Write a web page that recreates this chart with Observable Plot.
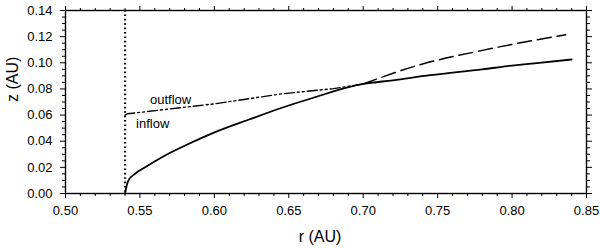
<!DOCTYPE html>
<html>
<head>
<meta charset="utf-8">
<script src="https://cdn.jsdelivr.net/npm/d3@7"></script>
<script src="https://cdn.jsdelivr.net/npm/@observablehq/plot@0.6"></script>
<style>
  html, body { margin: 0; padding: 0; background: #fff; }
  #chart { width: 600px; height: 249px; }
</style>
</head>
<body>
<div id="chart"></div>
<script>
// Solid curve (inflow surface, then continuing)
const solidR = [0.540, 0.5405, 0.5422, 0.5467, 0.5535, 0.5669, 0.5804, 0.6005, 0.6229, 0.6454, 0.6678, 0.6902, 0.700, 0.720, 0.745, 0.780, 0.800, 0.815, 0.840];
const solidZ = [0.000, 0.0030, 0.0099, 0.0151, 0.0201, 0.0291, 0.0367, 0.0469, 0.0564, 0.0656, 0.0737, 0.0813, 0.0838, 0.0866, 0.0905, 0.0950, 0.0978, 0.0996, 0.1025];
// Dash-dot-dot curve (outflow)
const outR = [0.540, 0.5415, 0.545, 0.600, 0.645, 0.680, 0.700];
const outZ = [0.0600, 0.0610, 0.0614, 0.0686, 0.0762, 0.0802, 0.0838];
// Dashed curve
const dashR = [0.700, 0.735, 0.780, 0.836];
const dashZ = [0.0838, 0.0975, 0.1095, 0.1214];
// Vertical dotted boundary
const boundaryR = [0.540];
// Annotations
const labelText = ["outflow", "inflow"];
const labelR = [0.5568, 0.5474];
const labelZ = [0.0719, 0.0536];
// Ticks
const xMajor = [0.50, 0.55, 0.60, 0.65, 0.70, 0.75, 0.80, 0.85];
const xMinor = [0.51, 0.52, 0.53, 0.54, 0.56, 0.57, 0.58, 0.59, 0.61, 0.62, 0.63, 0.64, 0.66, 0.67, 0.68, 0.69, 0.71, 0.72, 0.73, 0.74, 0.76, 0.77, 0.78, 0.79, 0.81, 0.82, 0.83, 0.84];
const yMajor = [0.00, 0.02, 0.04, 0.06, 0.08, 0.10, 0.12, 0.14];
const yMinor = [0.005, 0.010, 0.015, 0.025, 0.030, 0.035, 0.045, 0.050, 0.055, 0.065, 0.070, 0.075, 0.085, 0.090, 0.095, 0.105, 0.110, 0.115, 0.125, 0.130, 0.135];

const toRows = (rs, zs) => rs.map((r, i) => ({r, z: zs[i]}));
const solid = toRows(solidR, solidZ);
const outflow = toRows(outR, outZ);
const dashed = toRows(dashR, dashZ);
const labels = labelText.map((t, i) => ({t, r: labelR[i], z: labelZ[i]}));
const fmt = d3.format(".2f");
const blank = () => "";

const chart = Plot.plot({
  width: 600,
  height: 249,
  marginLeft: 65,
  marginRight: 14,
  marginTop: 10,
  marginBottom: 56,
  style: {fontFamily: "'Liberation Sans', Arial, sans-serif", fontSize: "13px", color: "black", background: "white"},
  x: {domain: [0.5, 0.85]},
  y: {domain: [0, 0.14]},
  marks: [
    Plot.axisX({anchor: "bottom", ticks: xMajor, tickSize: 5, tickPadding: 7, tickFormat: fmt, label: null, fontSize: 13}),
    Plot.axisX({anchor: "bottom", ticks: xMinor, tickSize: 3, tickFormat: blank, label: null}),
    Plot.axisX({anchor: "top", ticks: xMajor, tickSize: 5, tickFormat: blank, label: null}),
    Plot.axisX({anchor: "top", ticks: xMinor, tickSize: 3, tickFormat: blank, label: null}),
    Plot.axisY({anchor: "left", ticks: yMajor, tickSize: 5, tickPadding: 8, tickFormat: fmt, label: null, fontSize: 13}),
    Plot.axisY({anchor: "left", ticks: yMinor, tickSize: 3, tickFormat: blank, label: null}),
    Plot.axisY({anchor: "right", ticks: yMajor, tickSize: 5, tickFormat: blank, label: null}),
    Plot.axisY({anchor: "right", ticks: yMinor, tickSize: 3, tickFormat: blank, label: null}),
    Plot.frame({stroke: "black", strokeWidth: 1.4}),
    Plot.ruleX(boundaryR, {x: d => d, stroke: "black", strokeWidth: 2.2, strokeDasharray: "1.6,2.8"}),
    Plot.line(outflow, {x: "r", y: "z", stroke: "black", strokeWidth: 1.4, strokeDasharray: "10,3,2,3,2,3"}),
    Plot.line(dashed, {x: "r", y: "z", stroke: "black", strokeWidth: 1.5, strokeDasharray: "14,6", curve: "monotone-x"}),
    Plot.line(solid, {x: "r", y: "z", stroke: "black", strokeWidth: 1.8, curve: "monotone-x"}),
    Plot.text(labels, {x: "r", y: "z", text: "t", textAnchor: "start", fontSize: 13}),
    Plot.text(["r (AU)"], {frameAnchor: "bottom", dy: 48, dx: -6, fontSize: 16}),
    Plot.text(["z (AU)"], {frameAnchor: "left", dx: -53, rotate: -90, fontSize: 16})
  ]
});
document.getElementById("chart").appendChild(chart);
</script>
</body>
</html>
